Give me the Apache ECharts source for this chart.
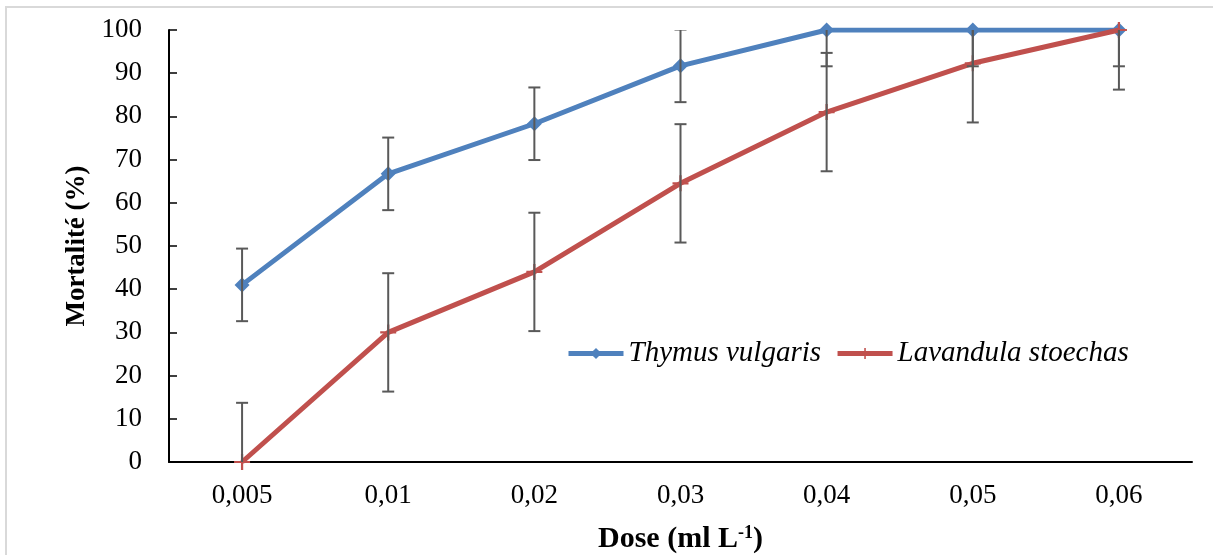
<!DOCTYPE html>
<html>
<head>
<meta charset="utf-8">
<style type="text/css">
    html, body { margin: 0; padding: 0; background: #fff; }
</style>
</head>
<body>
<div style="width: 1213px;height: 555px;" id="chart"></div>
<script src="https://cdn.jsdelivr.net/npm/echarts@6/dist/echarts.min.js"></script>
<script>

let categories = ['0,005', '0,01', '0,02', '0,03', '0,04', '0,05', '0,06'];
let thymus = [41, 66.7, 78.3, 91.7, 100, 100, 100];
let thymusErr = [8.4, 8.4, 8.4, 8.4, 8.4, 8.4, 8.4];
let lavandula = [0, 30, 44, 64.5, 81, 92.3, 100];
let lavandulaErr = [13.7, 13.7, 13.7, 13.7, 13.7, 13.7, 13.8];
let yTicks = [0, 100, 10]; // min, max, step

const FONT = "'Liberation Serif', 'Times New Roman', serif";

let chart = echarts.init(document.getElementById('chart'));

// error bar data: [index, low, high]
let errData = [];
thymus.forEach((v, i) => errData.push([i, v - thymusErr[i], v + thymusErr[i]]));
lavandula.forEach((v, i) => errData.push([i, v - lavandulaErr[i], v + lavandulaErr[i]]));

let option = {
    animation: false,
    backgroundColor: '#fff',
    graphic: [{
        type: 'rect',
        shape: {x: 6, y: 7, width: 1400, height: 700},
        style: {fill: 'none', stroke: '#d9d9d9', lineWidth: 2},
        silent: true
    }],
    grid: {left: 169, right: 21, top: 30, bottom: 93, outerBoundsMode: 'none', containLabel: false},
    legend: {
        left: 566,
        top: 339,
        padding: 0,
        itemWidth: 55,
        itemHeight: 14,
        itemGap: 14,
        lineStyle: {width: 5},
        textStyle: {fontFamily: FONT, fontSize: 29, fontStyle: 'italic', color: '#000'},
        data: ['Thymus vulgaris', 'Lavandula stoechas']
    },
    xAxis: {
        type: 'category',
        data: categories,
        boundaryGap: true,
        axisLine: {lineStyle: {color: '#000', width: 2}},
        axisTick: {inside: true, length: 8, lineStyle: {color: '#000', width: 1.5}},
        axisLabel: {fontFamily: FONT, fontSize: 27, color: '#000', margin: 20},
        name: '{b|Dose (ml L}{sup|-1}{b|)}',
        nameLocation: 'middle',
        nameGap: 62,
        nameTextStyle: {
            rich: {
                b: {fontFamily: FONT, fontSize: 30, fontWeight: 'bold', color: '#000'},
                sup: {fontFamily: FONT, fontSize: 18, fontWeight: 'bold', color: '#000', verticalAlign: 'top', padding: [0, 0, 12, 0]}
            }
        }
    },
    yAxis: {
        type: 'value',
        min: yTicks[0],
        max: yTicks[1],
        interval: yTicks[2],
        splitLine: {show: false},
        axisLine: {show: true, lineStyle: {color: '#000', width: 2}},
        axisTick: {show: true, inside: true, length: 8, lineStyle: {color: '#000', width: 1.5}},
        axisLabel: {fontFamily: FONT, fontSize: 27, color: '#000', margin: 27},
        name: 'Mortalité (%)',
        nameLocation: 'middle',
        nameGap: 78,
        nameTextStyle: {fontFamily: FONT, fontSize: 27, fontWeight: 'bold', color: '#000'}
    },
    series: [
        {
            name: 'Thymus vulgaris',
            type: 'line',
            data: thymus,
            color: '#4f81bd',
            lineStyle: {width: 5, color: '#4f81bd'},
            symbol: 'diamond',
            symbolSize: 15,
            showAllSymbol: true,
            itemStyle: {color: '#4f81bd'},
            z: 2
        },
        {
            name: 'Lavandula stoechas',
            type: 'line',
            data: lavandula,
            color: '#c0504d',
            lineStyle: {width: 5, color: '#c0504d'},
            symbol: 'path://M4.3,0h1.4v10h-1.4z M0,4.3h10v1.4h-10z',
            symbolSize: 16,
            showAllSymbol: true,
            itemStyle: {color: '#c0504d'},
            z: 3
        },
        {
            type: 'custom',
            data: errData,
            clip: true,
            z: 4,
            silent: true,
            renderItem: (params, api) => {
                let idx = api.value(0);
                let lo = api.coord([idx, api.value(1)]);
                let hi = api.coord([idx, api.value(2)]);
                let hw = 6;
                let st = {stroke: '#595959', lineWidth: 2};
                return {
                    type: 'group',
                    children: [
                        {type: 'line', shape: {x1: lo[0], y1: lo[1], x2: hi[0], y2: hi[1]}, style: st},
                        {type: 'line', shape: {x1: lo[0] - hw, y1: lo[1], x2: lo[0] + hw, y2: lo[1]}, style: st},
                        {type: 'line', shape: {x1: hi[0] - hw, y1: hi[1], x2: hi[0] + hw, y2: hi[1]}, style: st}
                    ]
                };
            }
        }
    ]
};

chart.setOption(option);

</script>
</body>
</html>
